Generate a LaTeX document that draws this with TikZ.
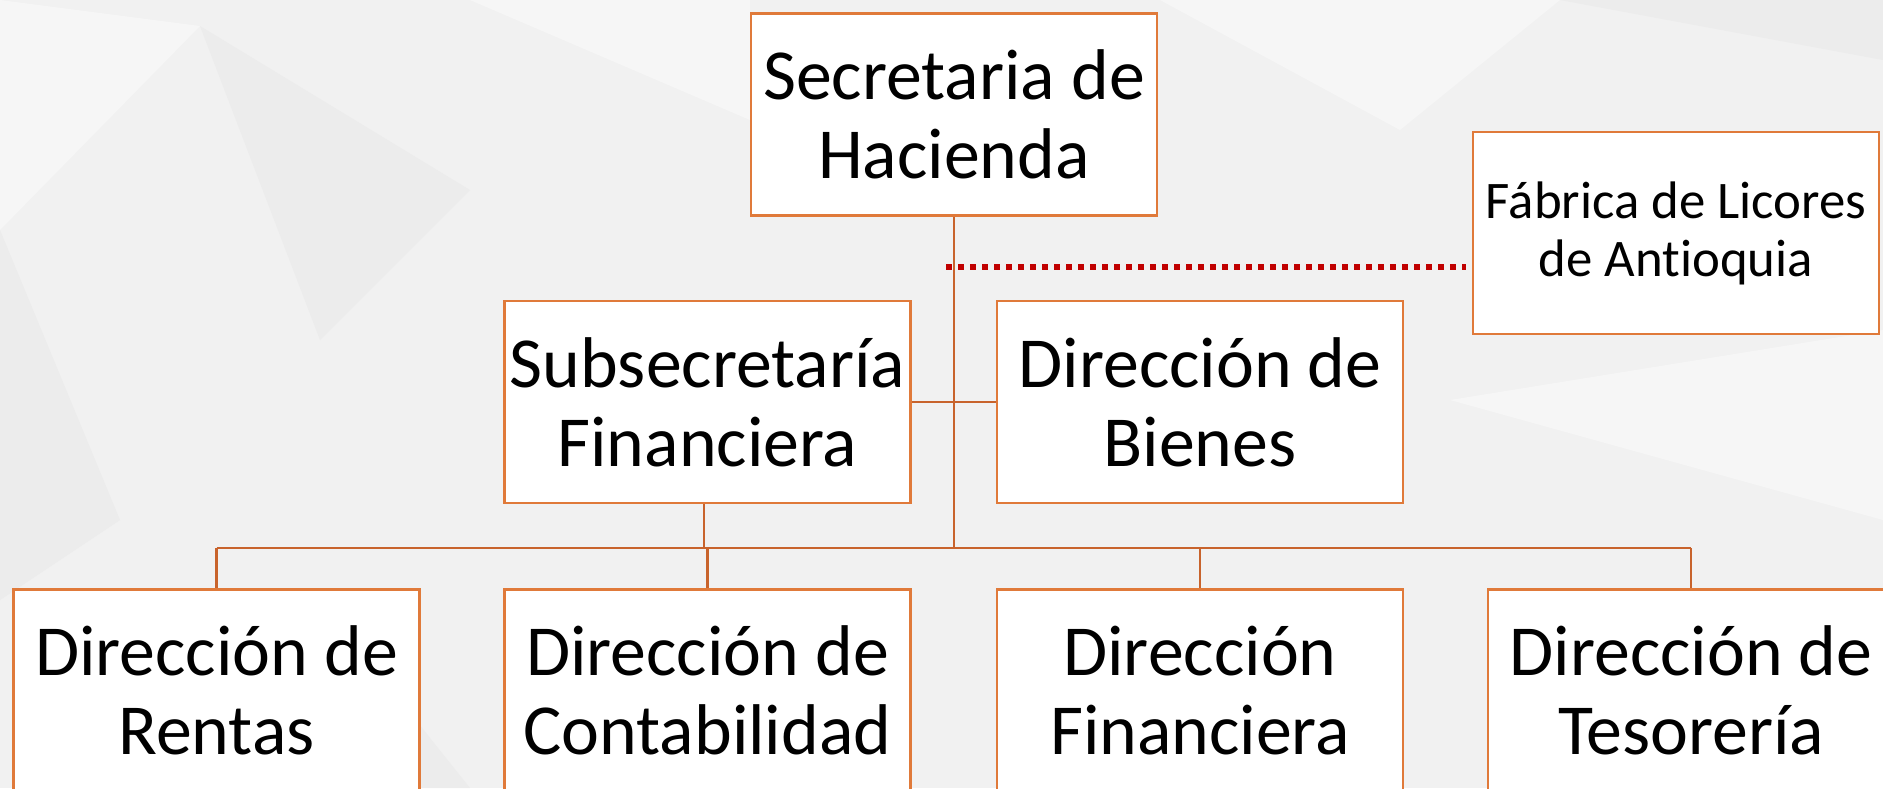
\documentclass[tikz,border=0pt]{standalone}
\usepackage{fontspec}
\setmainfont{Carlito}[Ligatures=NoCommon]
\usetikzlibrary{positioning}
\definecolor{boxline}{HTML}{E07A3A}
\definecolor{linkline}{HTML}{C8632C}
\definecolor{dotred}{HTML}{C00000}
\definecolor{bggray}{HTML}{F1F1F1}
\definecolor{bglight}{HTML}{F6F6F6}
\definecolor{bgdark}{HTML}{ECECEC}

\begin{document}
\begin{tikzpicture}[x=0.5pt, y=-0.5pt,
  unidad/.style={draw=boxline, line width=1.1pt, fill=white, text=black, minimum width=203pt, minimum height=101pt, inner sep=0pt, align=center, font=\fontsize{35.9}{39.5}\selectfont},
  enlace/.style={draw=linkline, line width=1.2pt},
  punteado/.style={draw=dotred, line width=2.8pt, dash pattern=on 2.8pt off 3.2pt}]
\useasboundingbox (0,0) rectangle (1883,788);
\clip (0,0) rectangle (1883,788);
% fondo
\fill[bggray] (0,0) rectangle (1883,788);
\fill[bglight] (0,0) -- (200,26) -- (0,230) -- cycle;
\fill[bgdark] (200,26) -- (470,190) -- (320,340) -- cycle;
\fill[bglight] (470,0) -- (750,0) -- (750,120) -- cycle;
\fill[bgdark] (0,230) -- (120,520) -- (0,600) -- cycle;
\fill[bglight] (1160,0) -- (1560,0) -- (1400,130) -- cycle;
\fill[bgdark] (1560,0) -- (1883,0) -- (1883,60) -- cycle;
\fill[bglight] (1450,400) -- (1883,330) -- (1883,520) -- cycle;
\fill[bgdark] (320,600) -- (470,788) -- (250,788) -- cycle;
%============
\node[unidad] (sec) at (954,114.5) {Secretaria de\\Hacienda};
\node[unidad] (sub) at (707.5,402) {Subsecretaría\\Financiera};
\node[unidad] (bienes) at (1200,402) {Dirección de\\Bienes};
\node[unidad, font=\fontsize{26.4}{29}\selectfont] (fabrica) at (1676,233) {Fábrica de Licores\\de Antioquia};
%============
\node[unidad] (rentas) at (216.5,690.5) {Dirección de\\Rentas};
\node[unidad] (contab) at (707.5,690.5) {Dirección de\\Contabilidad};
\node[unidad] (financ) at (1200,690.5) {Dirección\\Financiera};
\node[unidad] (tesor) at (1691,690.5) {Dirección de\\Tesorería};
%==========
\coordinate (bus) at (954,548);
\coordinate (dotstart) at (946,266.7);

\draw[enlace] (sec.south) -- (bus);
\draw[enlace] (sub.east) -- (bienes.west);
\draw[enlace] ([xshift=-1.75pt]sub.south) -- ([xshift=-1.75pt]sub.south |- bus);
\draw[enlace] (rentas.north |- bus) -- (tesor.north |- bus);
\foreach \n in {rentas,contab,financ,tesor}
  \draw[enlace] (\n.north |- bus) -- (\n.north);

\draw[punteado, shorten >=3pt] (dotstart) -- (dotstart -| fabrica.west);
\end{tikzpicture}
\end{document}
